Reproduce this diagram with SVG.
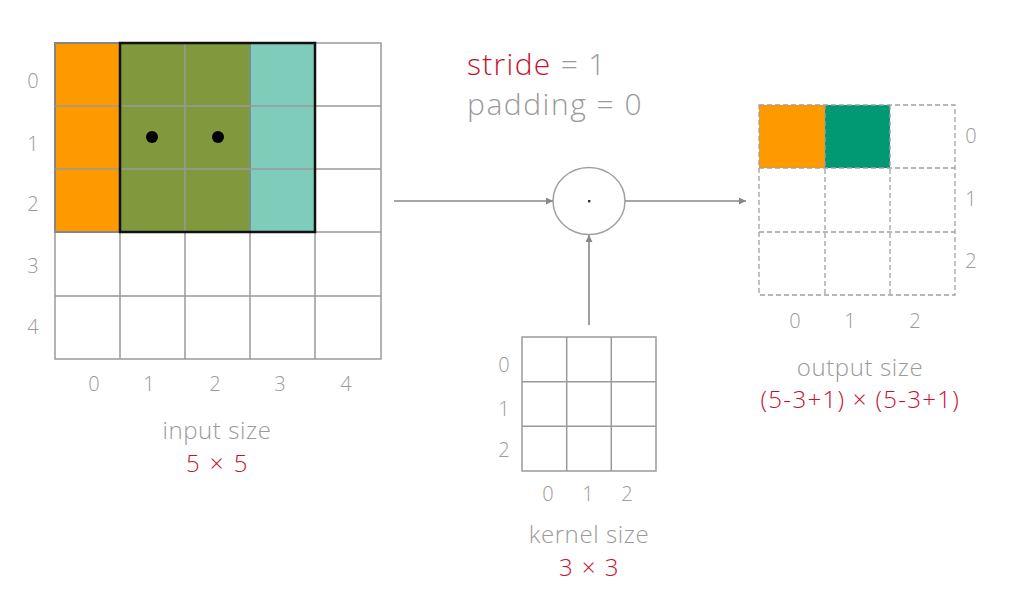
<svg xmlns="http://www.w3.org/2000/svg" width="1013" height="603" viewBox="0 0 1013 603">
<defs>
<style>
text{font-family:"Open Sans","Liberation Sans",sans-serif;font-weight:300;fill:#9a9a9a;}
.lbl{font-size:20px;text-anchor:middle;dominant-baseline:central;}
.cap{font-size:24px;text-anchor:middle;letter-spacing:0.6px;}
.par{font-size:30px;letter-spacing:1.3px;}
.red{fill:#c8102e;}
.grid{stroke:#9a9a9a;stroke-width:1.5;fill:none;}
.dash{stroke:#a0a0a0;stroke-width:1.3;fill:none;stroke-dasharray:5,3;}
.conn{stroke:#888;stroke-width:1.6;fill:none;marker-end:url(#ah);}
</style>
<marker id="ah" viewBox="0 0 10 10" refX="10" refY="5" markerWidth="7" markerHeight="7" markerUnits="userSpaceOnUse" orient="auto">
<path d="M0,0 L10,5 L0,10 z" fill="#888"/>
</marker>
</defs>
<rect width="1013" height="603" fill="#fff"/>

<g id="input">
<rect x="55" y="43" width="195" height="189" fill="#ff9900" stroke="#444" stroke-width="2"/>
<rect x="120" y="43" width="195" height="189" fill="#009977" fill-opacity="0.5"/>
<path class="grid" d="M55,43H381V359H55Z M120,43V359 M185,43V359 M250,43V359 M315,43V359 M55,106H381 M55,169H381 M55,232H381 M55,296H381"/>
<rect x="120" y="43" width="195" height="189" fill="none" stroke="#111" stroke-width="2.5"/>
<circle cx="152" cy="137" r="6" fill="#000"/>
<circle cx="218" cy="137" r="6" fill="#000"/>
<text class="lbl" x="33" y="80">0</text>
<text class="lbl" x="33" y="143">1</text>
<text class="lbl" x="33" y="203">2</text>
<text class="lbl" x="33" y="265">3</text>
<text class="lbl" x="33" y="326">4</text>
<text class="lbl" x="94" y="383">0</text>
<text class="lbl" x="149" y="383">1</text>
<text class="lbl" x="215" y="383">2</text>
<text class="lbl" x="280" y="383">3</text>
<text class="lbl" x="346" y="383">4</text>
<text class="cap" x="217" y="439">input size</text>
<text class="cap red" x="217" y="472" textLength="62">5 × 5</text>
</g>

<g id="params">
<text class="par" x="467" y="75"><tspan class="red">stride</tspan> = 1</text>
<text class="par" x="467" y="115" textLength="176">padding = 0</text>
</g>

<g id="op">
<ellipse cx="589" cy="201" rx="36" ry="33.5" fill="#fff" stroke="#a0a0a0" stroke-width="1.5"/>
<rect x="588" y="200" width="2.4" height="2.4" fill="#333"/>
</g>

<g id="kernel">
<path class="grid" d="M522,337H656V471H522Z M566.7,337V471 M611.3,337V471 M522,381.7H656 M522,426.3H656"/>
<text class="lbl" x="504" y="364">0</text>
<text class="lbl" x="504" y="408">1</text>
<text class="lbl" x="504" y="449">2</text>
<text class="lbl" x="548" y="493">0</text>
<text class="lbl" x="588" y="493">1</text>
<text class="lbl" x="627" y="493">2</text>
<text class="cap" x="589" y="543">kernel size</text>
<text class="cap red" x="589" y="576" textLength="60">3 × 3</text>
</g>

<g id="output">
<rect x="759" y="105" width="66" height="63" fill="#ff9900"/>
<rect x="825" y="105" width="65" height="63" fill="#009974"/>
<path class="dash" d="M759,105H955V295H759Z M825,105V295 M890,105V295 M759,168H955 M759,232H955"/>
<text class="lbl" x="971" y="135">0</text>
<text class="lbl" x="971" y="198">1</text>
<text class="lbl" x="971" y="260">2</text>
<text class="lbl" x="795" y="320">0</text>
<text class="lbl" x="850" y="320">1</text>
<text class="lbl" x="915" y="320">2</text>
<text class="cap" x="860" y="376">output size</text>
<text class="cap red" x="860" y="408" textLength="199">(5-3+1) × (5-3+1)</text>
</g>

<g id="connectors">
<path class="conn" d="M394,201H553"/>
<path class="conn" d="M625,201H746"/>
<path class="conn" d="M589,325V235"/>
</g>
</svg>
